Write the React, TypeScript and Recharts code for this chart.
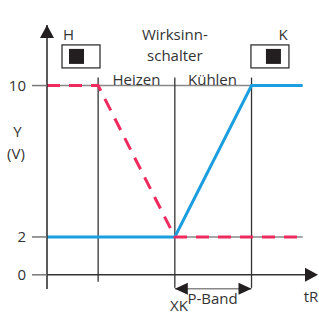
import React from 'react';
import { ComposedChart, Line, XAxis, YAxis, ReferenceLine, ReferenceDot } from 'recharts';

// tR positions: axis origin, Heizen end of flat part, XK, XK + P-Band, end
const tR = [0, 1, 2.5, 4, 5];
const heizen = [10, 10, 2, 2, 2];
const kuehlen = [2, 2, 2, 10, 10];
const yTicks = [0, 2, 10];

const data = tR.map((x, i) => ({ x, heizen: heizen[i], kuehlen: kuehlen[i] }));

const FONT = '"Open Sans", "Noto Sans", sans-serif';
const TXT = '#333';
const BLUE = '#1a9ee0';
const RED = '#ef2a5e';

const textShape = (t: string, size = 15) => (p: any) => (
  <text x={p.cx} y={p.cy} textAnchor="middle" dominantBaseline="central"
    fontFamily={FONT} fontSize={size} fill={TXT}>{t}</text>
);

const switchShape = (left: boolean) => (p: any) => {
  const { cx, cy } = p;
  const sx = left ? cx - 12 : cx - 4;
  return (
    <g>
      <rect x={cx - 19} y={cy - 11.5} width={38} height={23} fill="#fff" stroke="#333" strokeWidth={1.3} />
      <rect x={sx} y={cy - 7.5} width={15} height={15} fill="#231f20" />
    </g>
  );
};

const yArrow = (p: any) => (
  <polygon points={`${p.cx},${p.cy} ${p.cx - 7},${p.cy + 13} ${p.cx + 7},${p.cy + 13}`} fill="#231f20" />
);
const xArrow = (p: any) => (
  <polygon points={`${p.cx},${p.cy} ${p.cx - 13},${p.cy - 7} ${p.cx - 13},${p.cy + 7}`} fill="#231f20" />
);

const bandShape = (p: any) => {
  const { x1, y1, x2 } = p;
  const a = Math.min(x1, x2), b = Math.max(x1, x2);
  return (
    <g>
      <line x1={a} y1={y1} x2={b} y2={y1} stroke="#888" strokeWidth={1.5} />
      <polygon points={`${a},${y1} ${a + 13},${y1 - 6} ${a + 13},${y1 + 6}`} fill="#231f20" />
      <polygon points={`${b},${y1} ${b - 13},${y1 - 6} ${b - 13},${y1 + 6}`} fill="#231f20" />
    </g>
  );
};

const annotations: { t: string; x: number; y: number }[] = [
  { t: 'H', x: 0.42, y: 12.72 },
  { t: 'K', x: 4.615, y: 12.72 },
  { t: 'Wirksinn-', x: 2.5, y: 12.75 },
  { t: 'schalter', x: 2.5, y: 11.59 },
  { t: 'Heizen', x: 1.75, y: 10.37 },
  { t: 'Kühlen', x: 3.237, y: 10.37 },
  { t: 'Y', x: -0.577, y: 7.62 },
  { t: '(V)', x: -0.606, y: 6.42 },
  { t: 'XK', x: 2.58, y: -1.6 },
  { t: 'P-Band', x: 3.237, y: -1.23 },
  { t: 'tR', x: 5.163, y: -1.12 },
];

export default function App() {
  return (
    <div style={{ position: 'absolute', left: 0, top: 0 }}>
      <ComposedChart width={319} height={314} data={data}
        margin={{ top: 25, right: 1, bottom: 25, left: 0 }}>
        <XAxis type="number" dataKey="x" domain={[0, 5.3]} hide allowDataOverflow />
        <YAxis type="number" domain={[-0.75, 13.2]} ticks={yTicks} width={47}
          allowDataOverflow interval={0}
          tickSize={15} tickMargin={6}
          tickLine={{ stroke: '#777', strokeWidth: 1.5 }}
          axisLine={{ stroke: '#333', strokeWidth: 1.6 }}
          tick={{ fill: TXT, fontSize: 15, fontFamily: FONT }} />
        {/* gray guide lines */}
        <ReferenceLine segment={[{ x: 0, y: 10 }, { x: 4, y: 10 }]} stroke="#888" strokeWidth={1.5} ifOverflow="visible" />
        <ReferenceLine segment={[{ x: 0, y: 2 }, { x: 5, y: 2 }]} stroke="#888" strokeWidth={1.5} ifOverflow="visible" />
        {/* x axis */}
        <ReferenceLine segment={[{ x: 0, y: 0 }, { x: 5.2, y: 0 }]} stroke="#333" strokeWidth={1.6} ifOverflow="visible" />
        {/* vertical markers */}
        <ReferenceLine segment={[{ x: 1, y: -0.37 }, { x: 1, y: 10.42 }]} stroke="#333" strokeWidth={1.3} ifOverflow="visible" />
        <ReferenceLine segment={[{ x: 2.5, y: -0.69 }, { x: 2.5, y: 10.42 }]} stroke="#333" strokeWidth={1.3} ifOverflow="visible" />
        <ReferenceLine segment={[{ x: 4, y: -0.69 }, { x: 4, y: 10.42 }]} stroke="#333" strokeWidth={1.3} ifOverflow="visible" />
        {/* P-Band arrow */}
        <ReferenceLine segment={[{ x: 2.5, y: -0.74 }, { x: 4, y: -0.74 }]} shape={bandShape} ifOverflow="visible" />
        <Line type="linear" dataKey="kuehlen" stroke={BLUE} strokeWidth={3} dot={false} isAnimationActive={false} />
        <Line type="linear" dataKey="heizen" stroke={RED} strokeWidth={3} strokeDasharray="13 9" dot={false} isAnimationActive={false} />
        <ReferenceDot x={0} y={13.2} r={0} shape={yArrow} ifOverflow="visible" />
        <ReferenceDot x={5.3} y={0} r={0} shape={xArrow} ifOverflow="visible" />
        <ReferenceDot x={0.665} y={11.54} r={0} shape={switchShape(true)} ifOverflow="visible" />
        <ReferenceDot x={4.36} y={11.54} r={0} shape={switchShape(false)} ifOverflow="visible" />
        {annotations.map((a) => (
          <ReferenceDot key={a.t} x={a.x} y={a.y} r={0} shape={textShape(a.t)} ifOverflow="visible" />
        ))}
      </ComposedChart>
    </div>
  );
}
